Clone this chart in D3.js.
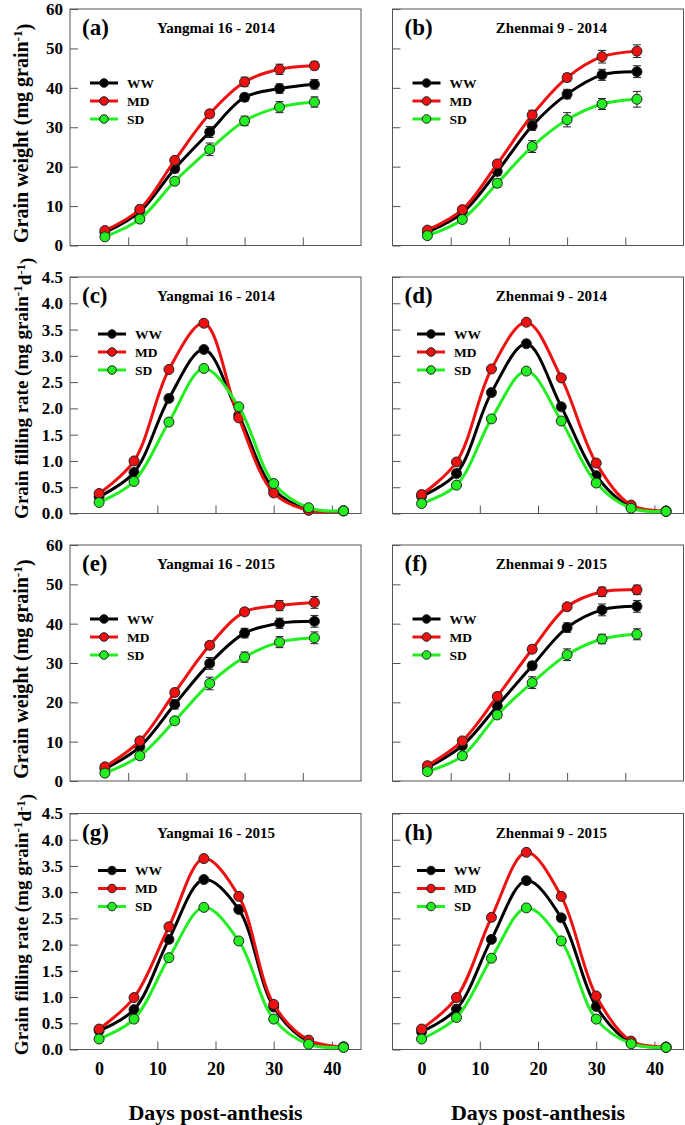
<!DOCTYPE html>
<html><head><meta charset="utf-8">
<script src="https://cdn.jsdelivr.net/npm/d3@7"></script>
<style>
body{margin:0;background:#fff;}
text{font-family:"Liberation Serif","Times New Roman",serif;font-weight:bold;fill:#000;}
</style>
</head><body>
<svg id="chart" width="685" height="1125"></svg>
<script>
// ---------------- DATA ----------------
const treatments = ["WW", "MD", "SD"];
const daysWeight = [6, 12, 18, 24, 30, 36, 42];
const daysRate = [0, 6, 12, 18, 24, 30, 36, 42];
const weightTicks = [0, 10, 20, 30, 40, 50, 60];
const rateTicks = [0, 0.5, 1.0, 1.5, 2.0, 2.5, 3.0, 3.5, 4.0, 4.5];
const xTicks = [0, 10, 20, 30, 40];
const panelLetters = ["(a)", "(b)", "(c)", "(d)", "(e)", "(f)", "(g)", "(h)"];
const panelTitles = ["Yangmai 16 - 2014", "Zhenmai 9 - 2014", "Yangmai 16 - 2014", "Zhenmai 9 - 2014",
                     "Yangmai 16 - 2015", "Zhenmai 9 - 2015", "Yangmai 16 - 2015", "Zhenmai 9 - 2015"];

// Grain weight (mg grain-1)
const a_WW = [3.3, 8.6, 19.5, 28.8, 37.6, 39.8, 40.9];
const a_MD = [3.8, 9.2, 21.6, 33.4, 41.5, 44.7, 45.6];
const a_SD = [2.2, 6.7, 16.3, 24.4, 31.6, 35.1, 36.4];
const b_WW = [3.4, 8.3, 18.8, 30.4, 38.4, 43.3, 44.1];
const b_MD = [3.9, 9.1, 20.7, 33.1, 42.6, 47.9, 49.3];
const b_SD = [2.5, 6.6, 15.8, 25.1, 31.9, 35.9, 37.1];
const e_WW = [3.1, 8.7, 19.5, 29.9, 37.6, 40.1, 40.6];
const e_MD = [3.6, 10.2, 22.5, 34.5, 43.0, 44.6, 45.4];
const e_SD = [2.0, 6.4, 15.3, 24.8, 31.5, 35.3, 36.4];
const f_WW = [3.4, 9.0, 19.1, 29.3, 39.0, 43.5, 44.4];
const f_MD = [3.9, 10.2, 21.5, 33.5, 44.3, 48.1, 48.6];
const f_SD = [2.4, 6.4, 16.8, 25.0, 32.1, 36.1, 37.3];

// Error bars (SE) for grain weight
const a_WW_err = [0.3, 0.5, 1.0, 1.4, 1.0, 1.2, 1.2];
const a_MD_err = [0.3, 0.5, 0.8, 0.9, 1.2, 1.3, 1.0];
const a_SD_err = [0.3, 0.5, 0.8, 1.6, 1.2, 1.4, 1.3];
const b_WW_err = [0.3, 0.5, 1.0, 1.2, 1.2, 1.4, 1.5];
const b_MD_err = [0.3, 0.5, 0.8, 1.2, 1.0, 1.6, 1.6];
const b_SD_err = [0.3, 0.4, 1.0, 1.5, 1.8, 1.4, 2.0];
const e_WW_err = [0.3, 0.6, 1.2, 1.5, 1.2, 1.3, 1.5];
const e_MD_err = [0.3, 0.5, 0.8, 0.8, 0.8, 1.3, 1.5];
const e_SD_err = [0.3, 0.4, 0.8, 1.6, 1.3, 1.4, 1.5];
const f_WW_err = [0.3, 0.5, 1.0, 1.0, 1.2, 1.5, 1.5];
const f_MD_err = [0.3, 0.5, 0.8, 0.9, 0.8, 1.2, 1.2];
const f_SD_err = [0.3, 0.4, 0.8, 1.5, 1.5, 1.2, 1.4];

// Grain filling rate (mg grain-1 d-1)
const c_WW = [0.32, 0.78, 2.19, 3.12, 1.87, 0.46, 0.07, 0.05];
const c_MD = [0.38, 1.00, 2.74, 3.62, 1.82, 0.39, 0.06, 0.05];
const c_SD = [0.21, 0.61, 1.74, 2.76, 2.03, 0.57, 0.11, 0.05];
const d_WW = [0.33, 0.76, 2.30, 3.23, 2.03, 0.72, 0.12, 0.04];
const d_MD = [0.36, 0.98, 2.75, 3.64, 2.58, 0.96, 0.16, 0.05];
const d_SD = [0.19, 0.54, 1.80, 2.71, 1.76, 0.58, 0.10, 0.04];
const g_WW = [0.36, 0.76, 2.10, 3.24, 2.67, 0.81, 0.15, 0.05];
const g_MD = [0.39, 0.99, 2.34, 3.64, 2.92, 0.86, 0.18, 0.05];
const g_SD = [0.20, 0.58, 1.75, 2.71, 2.07, 0.58, 0.10, 0.04];
const h_WW = [0.34, 0.77, 2.10, 3.22, 2.51, 0.82, 0.13, 0.04];
const h_MD = [0.39, 0.99, 2.52, 3.76, 2.92, 1.02, 0.16, 0.05];
const h_SD = [0.20, 0.61, 1.74, 2.70, 2.07, 0.58, 0.11, 0.04];

// ---------------- STYLE / LAYOUT ----------------
const colors = {WW: "#000000", MD: "#ee1111", SD: "#22ee22"};
const colX = [[70, 361], [392.5, 683.5]];
const rowY = [[9, 245.5], [277, 513.5], [545, 781], [813.5, 1049.5]];
const frameColor = "#555";

const panels = [
  {type: "weight", s: {WW: a_WW, MD: a_MD, SD: a_SD}, e: {WW: a_WW_err, MD: a_MD_err, SD: a_SD_err}},
  {type: "weight", s: {WW: b_WW, MD: b_MD, SD: b_SD}, e: {WW: b_WW_err, MD: b_MD_err, SD: b_SD_err}},
  {type: "rate", s: {WW: c_WW, MD: c_MD, SD: c_SD}},
  {type: "rate", s: {WW: d_WW, MD: d_MD, SD: d_SD}},
  {type: "weight", s: {WW: e_WW, MD: e_MD, SD: e_SD}, e: {WW: e_WW_err, MD: e_MD_err, SD: e_SD_err}},
  {type: "weight", s: {WW: f_WW, MD: f_MD, SD: f_SD}, e: {WW: f_WW_err, MD: f_MD_err, SD: f_SD_err}},
  {type: "rate", s: {WW: g_WW, MD: g_MD, SD: g_SD}},
  {type: "rate", s: {WW: h_WW, MD: h_MD, SD: h_SD}}
];

const svg = d3.select("#chart");

panels.forEach((p, i) => {
  const row = Math.floor(i / 2), col = i % 2;
  const [x0, x1] = colX[col];
  const [y0, y1] = rowY[row];
  const isW = p.type === "weight";
  const x = d3.scaleLinear().domain(isW ? [0, 50] : [-5, 45]).range([x0, x1]);
  const y = d3.scaleLinear().domain(isW ? [0, 60] : [0, 4.5]).range([y1, y0]);
  const days = isW ? daysWeight : daysRate;
  const g = svg.append("g");

  // axes
  const yAxis = d3.axisLeft(y).tickValues(isW ? weightTicks : rateTicks)
    .tickSizeInner(-8).tickSizeOuter(0).tickPadding(7)
    .tickFormat(col === 0 ? (isW ? d3.format("d") : d3.format(".1f")) : "");
  const ya = g.append("g").attr("transform", `translate(${x0},0)`).call(yAxis);
  ya.select(".domain").remove();
  ya.selectAll("line").attr("stroke", frameColor);
  ya.selectAll("text").style("font-size", "17px").attr("fill", "#000");

  const xa = g.append("g").attr("transform", `translate(0,${y1})`)
    .call(d3.axisBottom(x).tickValues(xTicks).tickSizeInner(-8).tickSizeOuter(0).tickPadding(13)
      .tickFormat(row === 3 ? d3.format("d") : ""));
  xa.select(".domain").remove();
  xa.selectAll("line").attr("stroke", frameColor);
  xa.selectAll(".tick").filter(d => d === 0).select("line").remove();
  xa.selectAll("text").style("font-size", "18px").attr("fill", "#000");

  // frame
  g.append("rect").attr("x", x0).attr("y", y0).attr("width", x1 - x0).attr("height", y1 - y0)
    .attr("fill", "none").attr("stroke", frameColor).attr("stroke-width", 1);

  // series
  const line = d3.line().x(d => x(d[0])).y(d => y(d[1])).curve(d3.curveCatmullRom.alpha(0.5));
  treatments.forEach(t => {
    const pts = days.map((d, k) => [d, p.s[t][k]]);
    g.append("path").attr("d", line(pts)).attr("fill", "none")
      .attr("stroke", colors[t]).attr("stroke-width", 3);
    if (p.e) {
      const eb = g.append("g").attr("stroke", "#222").attr("stroke-width", 1);
      pts.forEach((d, k) => {
        const e = p.e[t][k];
        const cx = x(d[0]);
        eb.append("line").attr("x1", cx).attr("x2", cx).attr("y1", y(d[1] - e)).attr("y2", y(d[1] + e));
        eb.append("line").attr("x1", cx - 4).attr("x2", cx + 4).attr("y1", y(d[1] - e)).attr("y2", y(d[1] - e));
        eb.append("line").attr("x1", cx - 4).attr("x2", cx + 4).attr("y1", y(d[1] + e)).attr("y2", y(d[1] + e));
      });
    }
    g.selectAll(null).data(pts).enter().append("circle")
      .attr("cx", d => x(d[0])).attr("cy", d => y(d[1])).attr("r", 5)
      .attr("fill", colors[t]).attr("stroke", "#222").attr("stroke-width", 1);
  });

  // legend
  const lx = x0 + (isW ? 20 : (col === 0 ? 28 : 24.5));
  const ly = y0 + (isW ? 74 : 57);
  treatments.forEach((t, k) => {
    const yy = ly + k * 18;
    g.append("line").attr("x1", lx).attr("x2", lx + 28).attr("y1", yy).attr("y2", yy)
      .attr("stroke", colors[t]).attr("stroke-width", 3);
    g.append("circle").attr("cx", lx + 14).attr("cy", yy).attr("r", 4.3)
      .attr("fill", colors[t]).attr("stroke", "#222").attr("stroke-width", 1);
    g.append("text").attr("x", lx + 37).attr("y", yy).attr("dy", "0.35em")
      .style("font-size", "13.5px").text(t);
  });

  // panel letter and title
  g.append("text").attr("x", x0 + 12).attr("y", y0 + 26).style("font-size", "23px").text(panelLetters[i]);
  g.append("text").attr("x", x0 + (col === 0 ? 146 : 159)).attr("y", y0 + 24)
    .attr("text-anchor", "middle").style("font-size", "15px").text(panelTitles[i]);

  // y-axis title (left column only)
  if (col === 0) {
    const cy = (y0 + y1) / 2 + (isW ? 6 : -7);
    const tt = g.append("text").attr("transform", `translate(28,${cy}) rotate(-90)`)
      .attr("text-anchor", "middle").style("font-size", isW ? "20px" : "19px");
    if (isW) {
      tt.append("tspan").text("Grain weight (mg grain");
      tt.append("tspan").attr("dy", "-0.45em").style("font-size", "13.5px").text("-1");
      tt.append("tspan").attr("dy", "0.45em").text(")");
    } else {
      tt.append("tspan").text("Grain filling rate (mg grain");
      tt.append("tspan").attr("dy", "-0.45em").style("font-size", "13px").text("-1");
      tt.append("tspan").attr("dy", "0.45em").text("d");
      tt.append("tspan").attr("dy", "-0.45em").style("font-size", "13px").text("-1");
      tt.append("tspan").attr("dy", "0.45em").text(")");
    }
  }

  // x-axis title (bottom row)
  if (row === 3) {
    g.append("text").attr("x", (x0 + x1) / 2).attr("y", 1120).attr("text-anchor", "middle")
      .style("font-size", "22px").text("Days post-anthesis");
  }
});
</script>
</body></html>
